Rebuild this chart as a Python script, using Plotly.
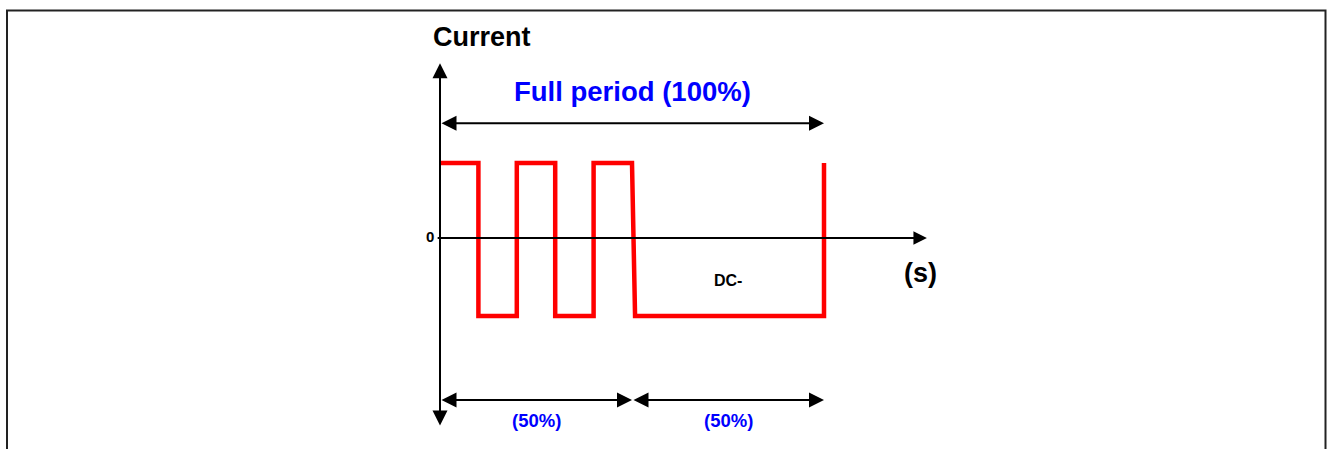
import plotly.graph_objects as go

# waveform: time in % of full period, current in relative units
time_pct = [0, 10, 10, 20, 20, 30, 30, 40, 40, 50, 50.8, 100, 100]
current = [1, 1, -1.04, -1.04, 1, 1, -1.04, -1.04, 1, 1, -1.04, -1.04, 1]

full_period = [0, 100]
half_bounds = [0, 50, 100]
half_labels = ["(50%)", "(50%)"]
dc_label = "DC-"

BLUE = "#0000FF"
RED = "#FF0000"
FONT = "Arial, Liberation Sans, sans-serif"

fig = go.Figure()

fig.add_trace(go.Scatter(
    x=time_pct,
    y=current,
    mode="lines",
    line=dict(color=RED, width=4.5),
    hoverinfo="skip",
    showlegend=False
))


def arrow(x0, y0, x1, y1, both=True, width=2):
    fig.add_annotation(
        x=x1, y=y1, ax=x0, ay=y0,
        xref="x", yref="y", axref="x", ayref="y",
        text="", showarrow=True,
        arrowhead=2, arrowsize=1.5, arrowwidth=width,
        arrowcolor="black",
        arrowside="end+start" if both else "end",
        startarrowhead=2, startarrowsize=1.5
    )


# axes drawn as arrows
arrow(0, -2.52, 0, 2.33)
arrow(-1, 0, 126.8, 0, both=False, width=1.8)

# period dimension arrows
arrow(full_period[0], 1.53, full_period[1], 1.53)
for a, b in zip(half_bounds[:-1], half_bounds[1:]):
    arrow(a, -2.16, b, -2.16)


def label(x, y, text, size, color="black", **kw):
    fig.add_annotation(x=x, y=y, xref="x", yref="y", text=f"<b>{text}</b>",
                       showarrow=False, font=dict(family=FONT, size=size, color=color), **kw)


label(10.9, 2.68, "Current", 27)
label(sum(full_period) / 2, 1.96, "Full period (100%)", 27.5, BLUE)
label(0, 0.02, "0", 15, xanchor="right", xshift=-4)
label(125, -0.47, "(s)", 27)
label((half_bounds[1] + half_bounds[2]) / 2, -0.56, dc_label, 16)
for a, b, t in zip(half_bounds[:-1], half_bounds[1:], half_labels):
    label((a + b) / 2, -2.43, t, 18.5, BLUE)

# outer frame (bottom edge cut off)
fig.add_shape(type="rect", xref="paper", yref="paper",
              x0=7 / 1330, x1=1325.5 / 1330, y0=-0.1, y1=1 - 10.5 / 449,
              line=dict(color="#222222", width=2))

fig.update_layout(
    width=1330, height=449,
    margin=dict(l=0, r=0, t=0, b=0),
    paper_bgcolor="white", plot_bgcolor="white",
    xaxis=dict(range=[-440 / 3.84, 890 / 3.84], visible=False, fixedrange=True),
    yaxis=dict(range=[-211 / 75, 238 / 75], visible=False, fixedrange=True),
    showlegend=False
)

fig.write_html("out.html", config={"displayModeBar": False},
               post_script="document.body.style.margin='0';")
